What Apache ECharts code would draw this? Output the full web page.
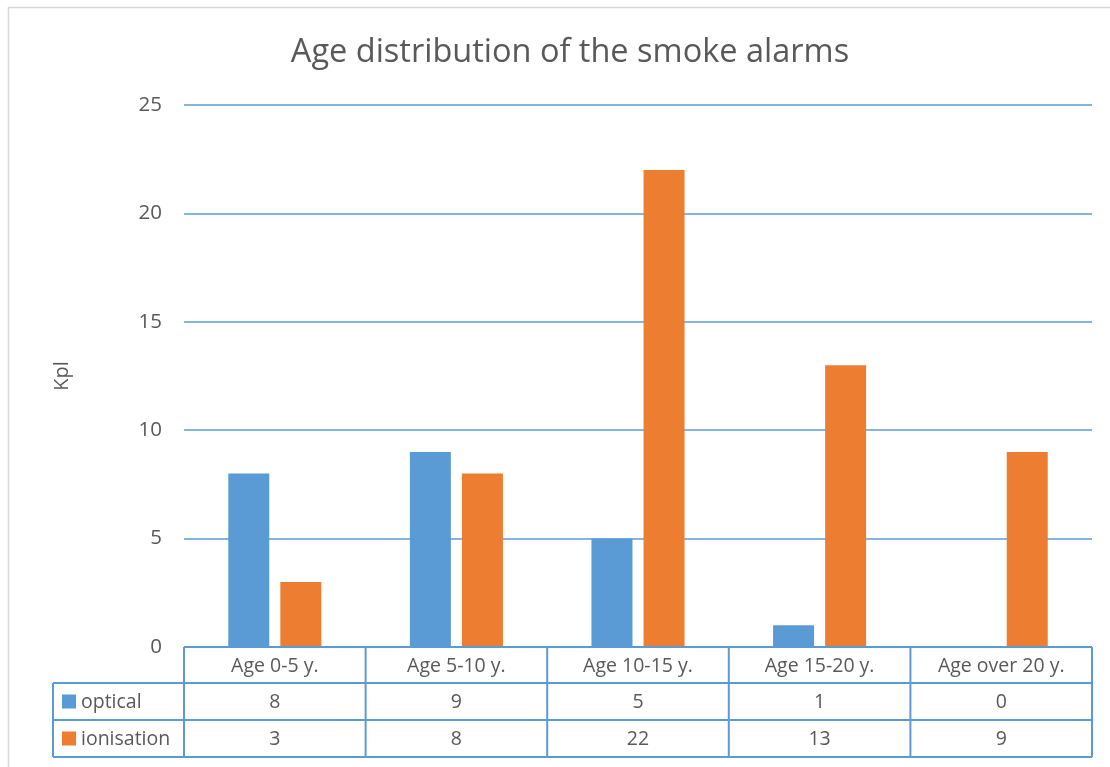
<!DOCTYPE html>
<html>
<head>
<meta charset="utf-8">
<script src="https://cdn.jsdelivr.net/npm/echarts@6/dist/echarts.min.js"></script>
<style>
  html, body { margin: 0; padding: 0; background: #fff; }
  #chart { width: 1110px; height: 767px; }
</style>
</head>
<body>
<div id="chart"></div>
<script>
const categories = ['Age 0-5 y.', 'Age 5-10 y.', 'Age 10-15 y.', 'Age 15-20 y.', 'Age over 20 y.']
const optical = [8, 9, 5, 1, 0]
const ionisation = [3, 8, 22, 13, 9]
const seriesNames = ['optical', 'ionisation']
const seriesValues = [optical, ionisation]
const colors = ['#5b9bd5', '#ed7d31']

const textColor = '#595959'
const lineColor = '#5b9bd5'
const font = '"Open Sans", "Liberation Sans", sans-serif'

// plot area
const W = 1110, H = 767
const gridLeft = 184, gridTop = 105, gridRight = 1092, gridBottom = 647
// data table under the plot
const tableLeft = 53
const rowEdges = [647, 683, 720, 757]

const chart = echarts.init(document.getElementById('chart'))

const buildTable = () => {
  const items = []
  const colW = (gridRight - gridLeft) / categories.length
  const colEdges = categories.map((_, i) => gridLeft + i * colW).concat(gridRight)
  const line = (x1, y1, x2, y2) => ({
    type: 'line',
    shape: { x1, y1, x2, y2 },
    style: { stroke: lineColor, lineWidth: 2 },
    z: 10
  })
  const text = (x, y, t, align) => ({
    type: 'text',
    x, y,
    style: {
      text: t, fill: textColor, font: '19.5px ' + font,
      align: align || 'center', verticalAlign: 'middle'
    },
    z: 10
  })

  items.push(line(gridLeft, rowEdges[0], gridRight, rowEdges[0]))
  for (let r = 1; r < rowEdges.length; r++) {
    items.push(line(tableLeft, rowEdges[r], gridRight, rowEdges[r]))
  }
  colEdges.forEach(x => items.push(line(x, rowEdges[0], x, rowEdges[3])))
  items.push(line(tableLeft, rowEdges[1], tableLeft, rowEdges[3]))

  categories.forEach((c, i) => {
    const cx = (colEdges[i] + colEdges[i + 1]) / 2
    items.push(text(cx, (rowEdges[0] + rowEdges[1]) / 2 + 1, c))
    seriesValues.forEach((vals, s) => {
      items.push(text(cx, (rowEdges[s + 1] + rowEdges[s + 2]) / 2 + 1, String(vals[i])))
    })
  })

  seriesNames.forEach((name, s) => {
    const cy = (rowEdges[s + 1] + rowEdges[s + 2]) / 2
    items.push({
      type: 'rect',
      shape: { x: 62, y: cy - 7, width: 14, height: 14 },
      style: { fill: colors[s] },
      z: 10
    })
    items.push(text(81, cy + 1, name, 'left'))
  })

  // chart area border
  items.push({
    type: 'rect',
    shape: { x: 8.5, y: 7.5, width: W + 20, height: H + 20 },
    style: { fill: null, stroke: '#d9d9d9', lineWidth: 1.5 },
    z: 0
  })
  return items
}

const option = {
  animation: false,
  title: {
    text: 'Age distribution of the smoke alarms',
    left: 565,
    textAlign: 'center',
    top: 31,
    textStyle: { color: textColor, fontSize: 32.5, fontWeight: 'normal', fontFamily: font }
  },
  grid: {
    left: gridLeft,
    top: gridTop,
    right: W - gridRight,
    bottom: H - gridBottom,
    containLabel: false
  },
  xAxis: {
    type: 'category',
    data: categories,
    axisLine: { show: false },
    axisTick: { show: false },
    axisLabel: { show: false }
  },
  yAxis: {
    type: 'value',
    min: 0,
    max: 25,
    interval: 5,
    name: 'Kpl',
    nameLocation: 'middle',
    nameGap: 112,
    nameTextStyle: { color: textColor, fontSize: 20, fontFamily: font },
    axisLine: { show: false },
    axisTick: { show: false },
    axisLabel: { color: textColor, fontSize: 20.5, fontFamily: font, margin: 22 },
    splitLine: { lineStyle: { color: lineColor, width: 1.5 } }
  },
  series: seriesNames.map((name, s) => ({
    name,
    type: 'bar',
    data: seriesValues[s],
    barWidth: 41,
    barGap: '27%',
    itemStyle: { color: colors[s] }
  })),
  graphic: buildTable()
}

chart.setOption(option)
</script>
</body>
</html>
